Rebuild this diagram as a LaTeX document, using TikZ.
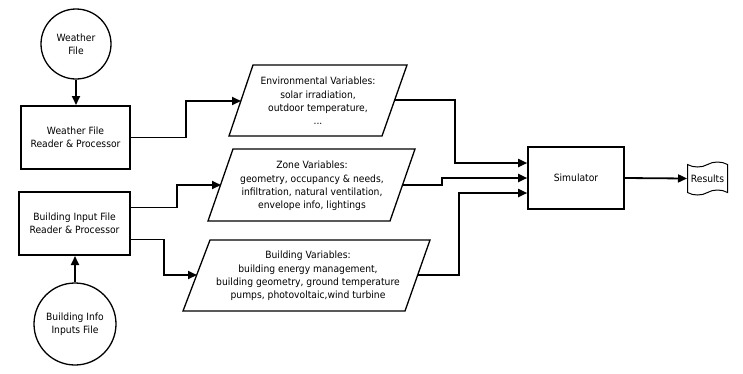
\documentclass[tikz,border=0pt]{standalone}
\usepackage{fontspec}
\setmainfont{DejaVu Sans}[FakeStretch=0.92]
\usetikzlibrary{arrows.meta,shapes.symbols}
\begin{document}
\begin{tikzpicture}[x=1pt,y=-1pt,
 every node/.style={font=\fontsize{10}{13.3}\selectfont, align=center, inner sep=0pt},
 circ/.style={draw, circle, line width=1.3pt},
 proc/.style={draw, rectangle, line width=2pt, minimum width=109, minimum height=63},
 para/.style={draw, line width=1.3pt},
 conn/.style={line width=1.8pt, -{Triangle[length=9pt,width=8pt]}},
]
\useasboundingbox[fill=white] (0,0) rectangle (743,373);

\node[circ, minimum size=70] (wf) at (76,44) {Weather\\File};
\node[proc] (wp) at (75.5,137.5) {Weather File\\Reader \& Processor};
\node[proc, minimum width=111] (bp) at (74.5,223.5) {Building Input File\\Reader \& Processor};
\node[circ, minimum size=82] (bi) at (75,324) {Building Info\\Inputs File};

\node (env) at (318,101) {Environmental Variables:\\solar irradiation,\\outdoor temperature,\\...};
\draw[para] (229,136) -- (253,65) -- (407,65) -- (382,136) -- cycle;
\coordinate (envL) at (241,101);
\coordinate (envR) at (394,100);

\node (zone) at (312,186) {Zone Variables:\\geometry, occupancy \& needs,\\infiltration, natural ventilation,\\envelope info, lightings};
\draw[para] (208,221) -- (233,149) -- (415,149) -- (390,221) -- cycle;
\coordinate (zoneL) at (221,185);
\coordinate (zoneR) at (402,185);

\node (bv) at (308,276) {Building Variables:\\building energy management,\\building geometry, ground temperature\\pumps, photovoltaic,wind turbine};
\draw[para] (183,311) -- (210,240) -- (430,240) -- (405,311) -- cycle;
\coordinate (bvL) at (197,275);
\coordinate (bvR) at (418,275);

\node[draw, line width=1.6pt, minimum width=96, minimum height=62] (sim) at (576,178) {Simulator};
\node[draw, tape, line width=1pt, minimum width=40, minimum height=33] (res) at (707.5,178.5) {Results};

\draw[conn] (wf.south) -- (wf.south |- wp.north);
\draw[conn] (bi.north) -- (bi.north |- bp.south);
\draw[conn] (wp.east) -- ++(55,0) |- (envL);
\draw[conn] ([yshift=16pt]bp.east) -- ++(46,0) |- (zoneL);
\draw[conn] ([yshift=-16pt]bp.east) -- ++(33,0) |- (bvL);
\draw[conn] (envR) -- ++(61,0) |- ([yshift=15pt]sim.west);
\draw[conn] (zoneR) -- ++(40,0) -- ++(0,-7) -- (sim.west);
\draw[conn] (bvR) -- ++(41,0) |- ([yshift=-15pt]sim.west);
\draw[conn] (sim.east) -- (res.west);
\end{tikzpicture}
\end{document}
